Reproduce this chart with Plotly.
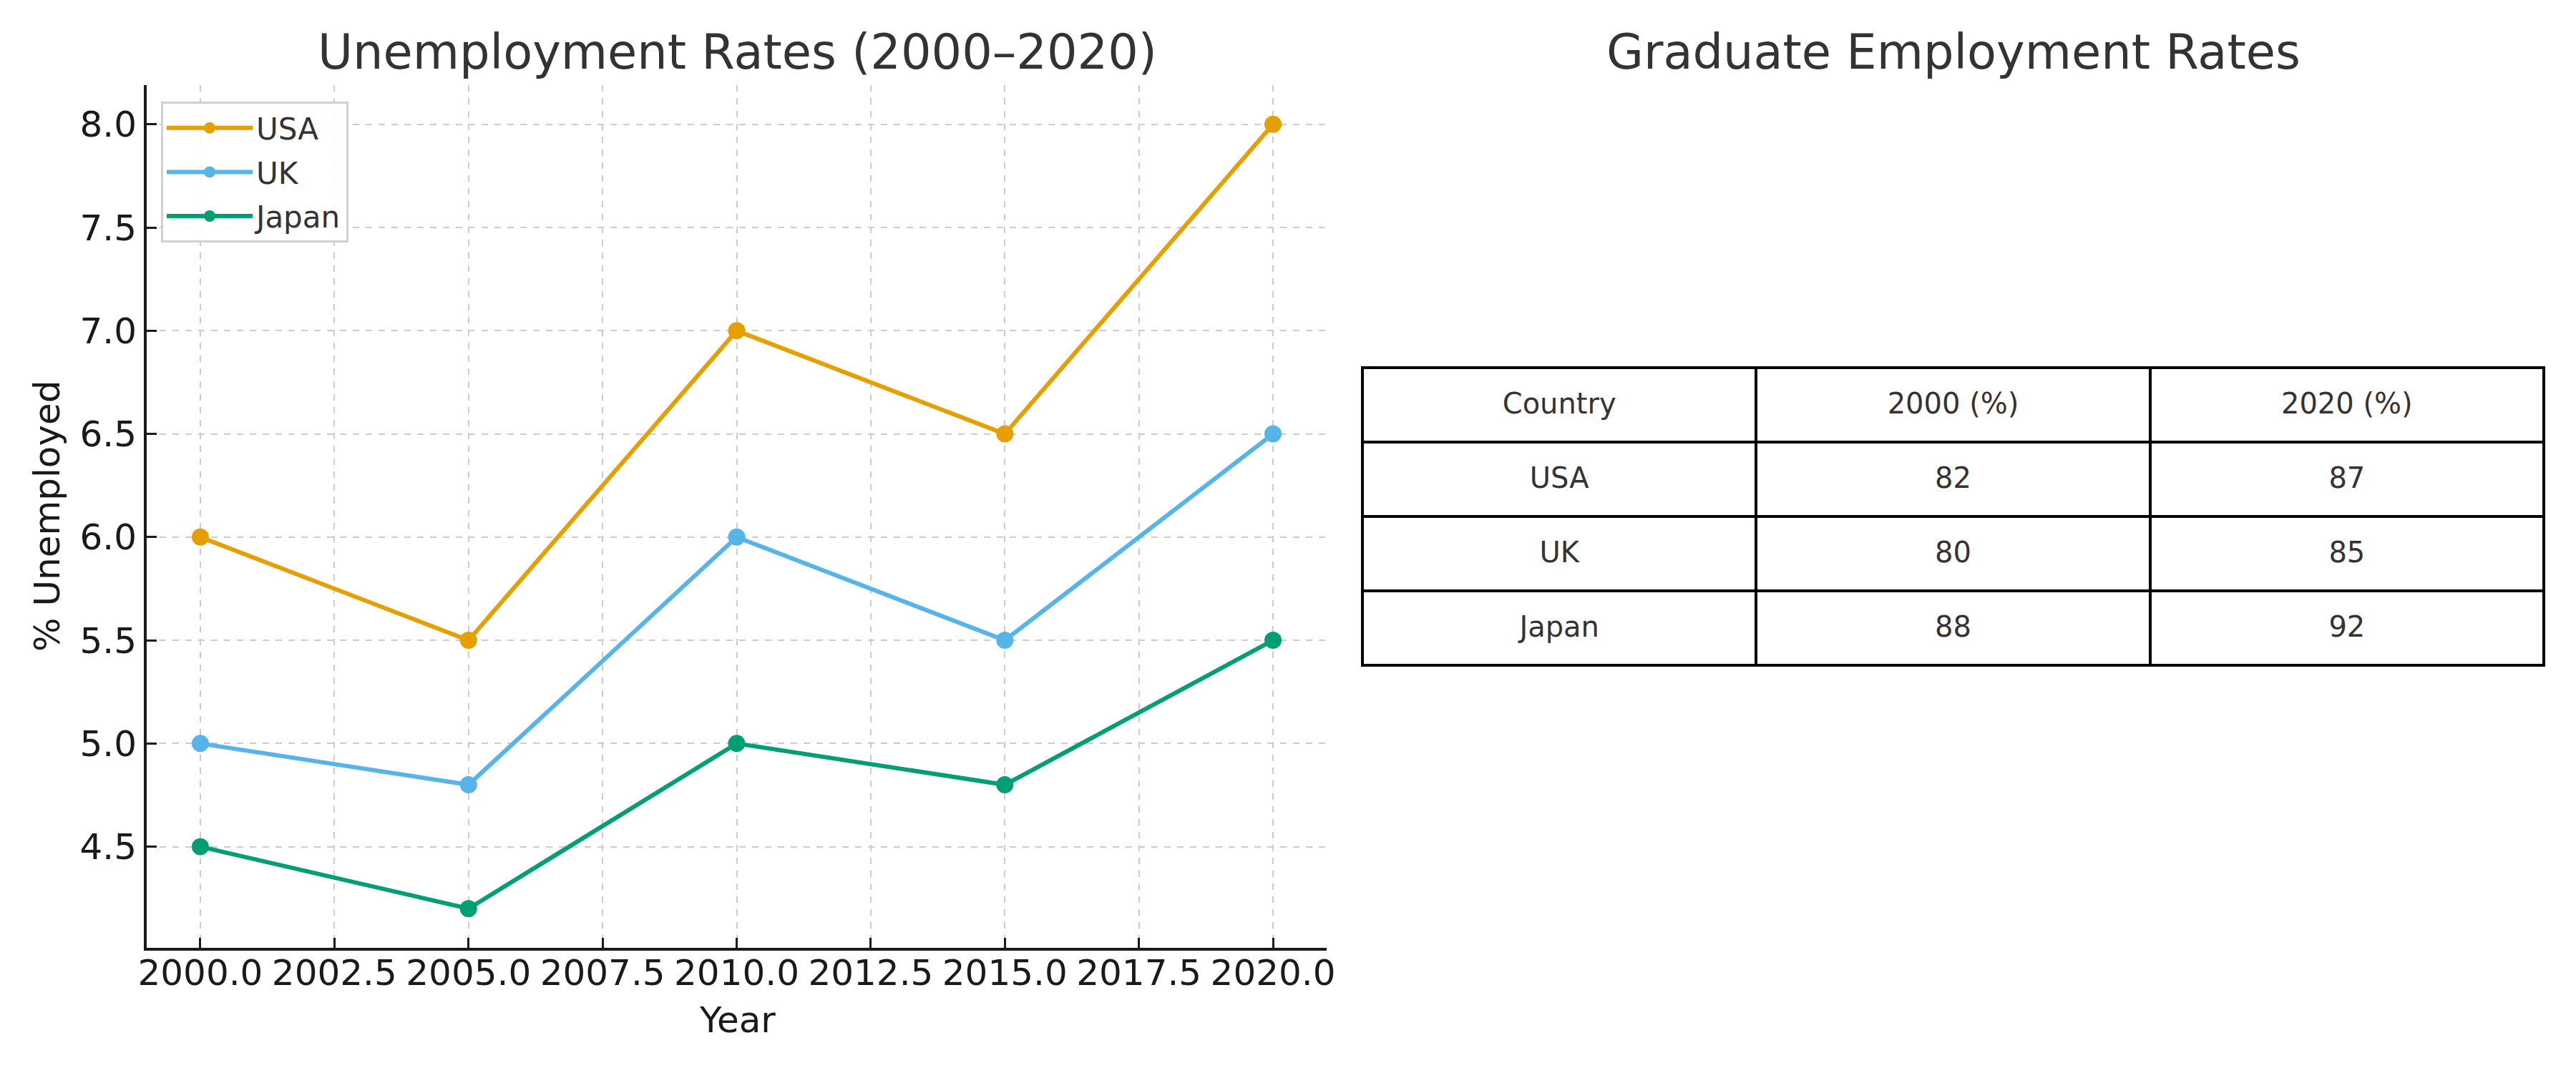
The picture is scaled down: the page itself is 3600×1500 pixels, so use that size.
import plotly.graph_objects as go

years = [2000, 2005, 2010, 2015, 2020]
usa = [6.0, 5.5, 7.0, 6.5, 8.0]
uk = [5.0, 4.8, 6.0, 5.5, 6.5]
japan = [4.5, 4.2, 5.0, 4.8, 5.5]

series_names = ["USA", "UK", "Japan"]
series_colors = ["#E69F00", "#56B4E9", "#009E73"]

table_header = ["Country", "2000 (%)", "2020 (%)"]
table_country = ["USA", "UK", "Japan"]
table_2000 = [82, 80, 88]
table_2020 = [87, 85, 92]

FONT = "DejaVu Sans"
W, H = 3600, 1500

fig = go.Figure()
for name, vals, col in zip(series_names, [usa, uk, japan], series_colors):
    fig.add_trace(go.Scatter(
        x=years, y=vals, name=name, legendgroup=name, mode="lines+markers",
        line=dict(color=col, width=6),
        marker=dict(color=col, size=24),
    ))

# Table geometry (pixels from top-left)
TL, TR, TT, TB = 1904, 3555, 514, 935
ROW_H = 104
TEXT_SHIFT = 26  # plotly tables top-align text; shift text layer down to centre it

# grid layer (borders and fill)
fig.add_trace(go.Table(
    domain=dict(x=[TL / W, TR / W], y=[1 - TB / H, 1 - TT / H]),
    header=dict(
        values=[""] * len(table_header),
        fill=dict(color="white"),
        line=dict(color="black", width=4),
        height=ROW_H,
    ),
    cells=dict(
        values=[[""] * len(table_country)] * len(table_header),
        fill=dict(color="white"),
        line=dict(color="black", width=4),
        height=ROW_H,
    ),
))

# text layer
fig.add_trace(go.Table(
    domain=dict(x=[TL / W, TR / W], y=[1 - (TB + TEXT_SHIFT) / H, 1 - (TT + TEXT_SHIFT) / H]),
    header=dict(
        values=table_header,
        align="center",
        fill=dict(color="rgba(0,0,0,0)"),
        line=dict(color="rgba(0,0,0,0)", width=0),
        font=dict(family=FONT, size=40, color="#333333"),
        height=ROW_H,
    ),
    cells=dict(
        values=[table_country, table_2000, table_2020],
        align="center",
        fill=dict(color="rgba(0,0,0,0)"),
        line=dict(color="rgba(0,0,0,0)", width=0),
        font=dict(family=FONT, size=40, color="#333333"),
        height=ROW_H,
    ),
))

x0, x1 = 205 / W, 1854 / W
y0, y1 = 1 - 1325 / H, 1 - 119 / H

axis_common = dict(
    tickformat=".1f",
    showline=True, linecolor="#1a1a1a", linewidth=4, mirror=False,
    ticks="inside", ticklen=14, tickwidth=3, tickcolor="#1a1a1a",
    tickfont=dict(family=FONT, size=50, color="#1a1a1a"),
    showgrid=True, gridcolor="#cccccc", gridwidth=2, griddash="dash",
    zeroline=False, automargin=False,
)

fig.update_layout(
    width=W, height=H,
    margin=dict(l=0, r=0, t=0, b=0, autoexpand=False),
    paper_bgcolor="white", plot_bgcolor="white",
    font=dict(family=FONT, color="#1a1a1a"),
    showlegend=True,
    legend=dict(
        x=225 / W, y=1 - 142 / H, xanchor="left", yanchor="top",
        bgcolor="rgba(255,255,255,0.9)",
        bordercolor="#d0d0d0", borderwidth=3,
        font=dict(family=FONT, size=42, color="#333333"),
        itemwidth=120,
        tracegroupgap=4,
    ),
    xaxis=dict(domain=[x0, x1], range=[1999, 2021], tick0=2000, dtick=2.5,
               ticklabelstandoff=-12, **axis_common),
    yaxis=dict(domain=[y0, y1], range=[4.01, 8.19], tick0=4.5, dtick=0.5, **axis_common),
    annotations=[
        dict(text="Unemployment Rates (2000–2020)", x=1030 / W, y=1 - 73 / H,
             xref="paper", yref="paper", xanchor="center", yanchor="middle",
             showarrow=False, font=dict(family=FONT, size=67, color="#333333")),
        dict(text="Graduate Employment Rates", x=2730 / W, y=1 - 73 / H,
             xref="paper", yref="paper", xanchor="center", yanchor="middle",
             showarrow=False, font=dict(family=FONT, size=67, color="#333333")),
        dict(text="Year", x=1030 / W, y=1 - 1426 / H,
             xref="paper", yref="paper", xanchor="center", yanchor="middle",
             showarrow=False, font=dict(family=FONT, size=50, color="#1a1a1a")),
        dict(text="% Unemployed", x=66 / W, y=1 - 722 / H, textangle=-90,
             xref="paper", yref="paper", xanchor="center", yanchor="middle",
             showarrow=False, font=dict(family=FONT, size=50, color="#1a1a1a")),
    ],
)

fig.write_html("out.html")
